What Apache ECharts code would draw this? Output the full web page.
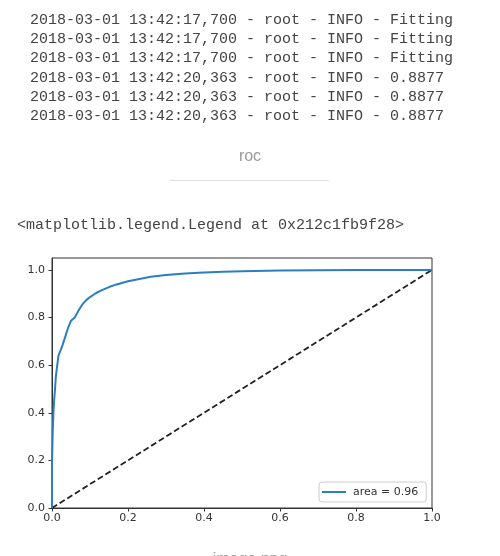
<!DOCTYPE html>
<html>
<head>
<meta charset="utf-8">
<script src="https://cdn.jsdelivr.net/npm/echarts@6/dist/echarts.min.js"></script>
<style>
html,body{margin:0;padding:0;background:#fff;}
#main{width:500px;height:556px;}
</style>
</head>
<body>
<div id="main"></div>
<script>
// ---- data ----
const logLines = [
  "2018-03-01 13:42:17,700 - root - INFO - Fitting",
  "2018-03-01 13:42:17,700 - root - INFO - Fitting",
  "2018-03-01 13:42:17,700 - root - INFO - Fitting",
  "2018-03-01 13:42:20,363 - root - INFO - 0.8877",
  "2018-03-01 13:42:20,363 - root - INFO - 0.8877",
  "2018-03-01 13:42:20,363 - root - INFO - 0.8877"
];
const cellTitle = "roc";
const reprText = "<matplotlib.legend.Legend at 0x212c1fb9f28>";
const imageCaption = "image.png";
const rocName = "area = 0.96";

const fpr = [0, 0, 0.002, 0.004, 0.006, 0.008, 0.010, 0.013, 0.017, 0.022, 0.028, 0.035, 0.043, 0.050,
  0.060, 0.070, 0.080, 0.090, 0.100, 0.115, 0.130, 0.150, 0.170, 0.200, 0.230, 0.260, 0.300,
  0.350, 0.400, 0.450, 0.500, 0.600, 0.700, 0.800, 0.900, 1.000];
const tpr = [0, 0.19, 0.32, 0.41, 0.46, 0.50, 0.55, 0.59, 0.64, 0.66, 0.685, 0.72, 0.76, 0.786,
  0.80, 0.83, 0.855, 0.873, 0.886, 0.902, 0.914, 0.928, 0.939, 0.952, 0.962, 0.971, 0.979,
  0.985, 0.989, 0.992, 0.994, 0.997, 0.999, 1.0, 1.0, 1.0];
const chanceX = [0, 1];
const chanceY = [0, 1];
const xTicks = [0, 0.2, 0.4, 0.6, 0.8, 1.0];
const yTicks = [0, 0.2, 0.4, 0.6, 0.8, 1.0];

// ---- chart ----
const chart = echarts.init(document.getElementById('main'), null, {renderer: 'canvas'});

const monoFont = '15px "Liberation Mono", "Courier New", monospace';
const graphics = [];
logLines.forEach((t, i) => {
  graphics.push({
    type: 'text', x: 30, y: 20 + i * 19.2,
    style: {text: t, font: monoFont, fill: '#444', verticalAlign: 'middle'}
  });
});
graphics.push({
  type: 'text', x: 250, y: 157,
  style: {text: cellTitle, font: '16px "Liberation Sans", Arial, sans-serif', fill: '#999', align: 'center', verticalAlign: 'middle'}
});
graphics.push({
  type: 'line', shape: {x1: 170, y1: 180.5, x2: 329, y2: 180.5},
  style: {stroke: '#ddd', lineWidth: 1}
});
graphics.push({
  type: 'text', x: 17, y: 225,
  style: {text: reprText, font: monoFont, fill: '#444', verticalAlign: 'middle'}
});
graphics.push({
  type: 'text', x: 250, y: 560,
  style: {text: imageCaption, font: '16px "Liberation Sans", Arial, sans-serif', fill: '#999', align: 'center', verticalAlign: 'middle'}
});

const axisFont = {fontFamily: '"DejaVu Sans", sans-serif', fontSize: 11, color: '#333'};

chart.setOption({
  animation: false,
  backgroundColor: '#fff',
  graphic: graphics,
  grid: {left: 52, right: 68, top: 258, bottom: 48, show: true, borderColor: '#333', borderWidth: 1, backgroundColor: 'transparent'},
  legend: {
    data: [rocName],
    left: 319, top: 482,
    orient: 'horizontal',
    icon: 'rect', itemWidth: 24, itemHeight: 2,
    padding: [4, 8, 4, 3],
    borderColor: '#ccc', borderWidth: 1, borderRadius: 3,
    backgroundColor: 'rgba(255,255,255,0.85)',
    textStyle: {fontFamily: '"DejaVu Sans", sans-serif', fontSize: 11, color: '#333', lineHeight: 12, padding: [0, 0, 0, 2]}
  },
  xAxis: {
    type: 'value', min: 0, max: 1, interval: 0.2,
    axisLine: {show: true, lineStyle: {color: '#333', width: 1}},
    axisTick: {show: true, length: 3.5, lineStyle: {color: '#333'}, customValues: xTicks},
    axisLabel: Object.assign({margin: 5, formatter: v => v.toFixed(1), customValues: xTicks}, axisFont),
    splitLine: {show: false}
  },
  yAxis: {
    type: 'value', min: 0, max: 1.05, interval: 0.2,
    axisLine: {show: true, lineStyle: {color: '#333', width: 1}},
    axisTick: {show: true, length: 3.5, lineStyle: {color: '#333'}, customValues: yTicks},
    axisLabel: Object.assign({margin: 7, formatter: v => v.toFixed(1), customValues: yTicks}, axisFont),
    splitLine: {show: false}
  },
  series: [
    {
      name: rocName, type: 'line', showSymbol: false, symbol: 'none', smooth: false,
      data: fpr.map((x, i) => [x, tpr[i]]),
      lineStyle: {color: '#2b7fbf', width: 2},
      itemStyle: {color: '#2b7fbf'},
      z: 3
    },
    {
      name: 'chance', type: 'line', showSymbol: false, symbol: 'none',
      data: chanceX.map((x, i) => [x, chanceY[i]]),
      lineStyle: {color: '#222', width: 1.8, type: [6, 3]},
      itemStyle: {color: '#222'},
      z: 2
    }
  ]
});
</script>
</body>
</html>
